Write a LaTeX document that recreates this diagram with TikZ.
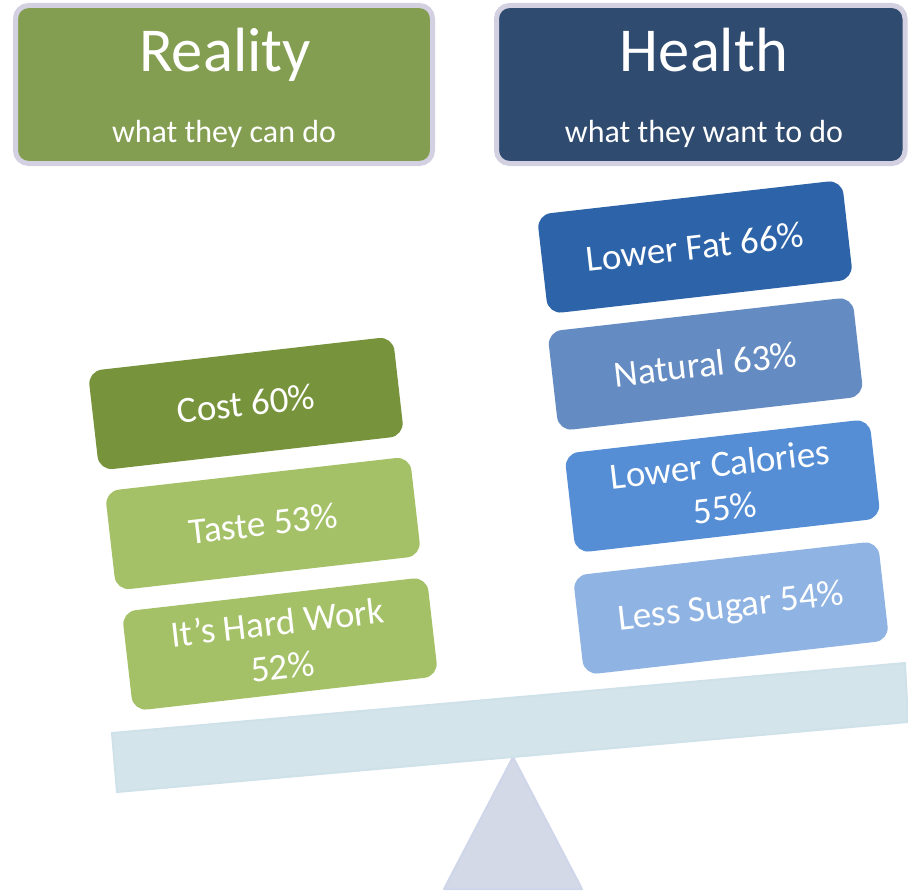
\documentclass[tikz,border=0pt]{standalone}
\usepackage{fontspec}
\setmainfont{Carlito}
\definecolor{hdrborder}{HTML}{D3D0E1}
\definecolor{realgreen}{HTML}{849E51}
\definecolor{healthblue}{HTML}{2F4B6F}
\definecolor{costgreen}{HTML}{77933C}
\definecolor{lightgreen}{HTML}{A4C167}
\definecolor{fatblue}{HTML}{2D63A8}
\definecolor{natblue}{HTML}{658CC2}
\definecolor{calblue}{HTML}{558ED5}
\definecolor{sugarblue}{HTML}{8FB3E2}
\definecolor{beamfill}{HTML}{D3E4EB}
\definecolor{beamedge}{HTML}{CFE1E9}
\definecolor{trifill}{HTML}{D4D9E8}
\definecolor{triedge}{HTML}{D0D6EA}
\tikzset{
  hdrbox/.style={draw=hdrborder, line width=5pt, rounded corners=13pt,
    minimum height=158pt, inner sep=0pt},
  hdrtitle/.style={anchor=base, text=white, inner sep=0pt,
    font=\fontsize{62.5}{74}\selectfont},
  hdrsub/.style={anchor=base, text=white, inner sep=0pt,
    font=\fontsize{32}{38}\selectfont},
  bar/.style={rounded corners=14pt, minimum width=307pt, minimum height=100pt,
    rotate=6.5, text=white, align=center, inner sep=0pt,
    font=\fontsize{37}{44}\selectfont}
}
\begin{document}
\begin{tikzpicture}[x=1pt,y=-1pt]
\useasboundingbox (0,0) rectangle (908,891);
% headers
\node[hdrbox, fill=realgreen, minimum width=417pt] (reality) at (224,84.5) {};
\node[hdrtitle] (realitytitle) at (225,72) {Reality};
\node[hdrsub] (realitysub) at (224,142) {what they can do};
\node[hdrbox, fill=healthblue, minimum width=408.5pt] (health) at (700.75,84.5) {};
\node[hdrtitle] (healthtitle) at (704,72) {Health};
\node[hdrsub] (healthsub) at (704,142) {what they want to do};
% seesaw
\coordinate (tA) at (513,757);
\coordinate (tL) at (444,889);
\coordinate (tR) at (582,889);
\draw[fill=trifill, draw=triedge, line width=2pt, line join=round] (tA) -- (tL) -- (tR) -- cycle;
\coordinate (b1) at (112,733);
\coordinate (b2) at (905,663);
\coordinate (b3) at (908,722);
\coordinate (b4) at (117,792);
\draw[fill=beamfill, draw=beamedge, line width=2pt] (b1) -- (b2) -- (b3) -- (b4) -- cycle;
% left stack
\node[bar, fill=costgreen] (cost) at (246,403.5) {Cost 60\%};
\node[bar, fill=lightgreen] (taste) at (263,523.5) {Taste 53\%};
\node[bar, fill=lightgreen] (hard) at (280,644) {It’s Hard Work\\52\%};
% right stack
\node[bar, fill=fatblue] (fat) at (695,247) {Lower Fat 66\%};
\node[bar, fill=natblue] (natural) at (705.5,364) {Natural 63\%};
\node[bar, fill=calblue] (calories) at (722.5,486) {Lower Calories\\55\%};
\node[bar, fill=sugarblue] (sugar) at (731,608) {Less Sugar 54\%};
\end{tikzpicture}
\end{document}
